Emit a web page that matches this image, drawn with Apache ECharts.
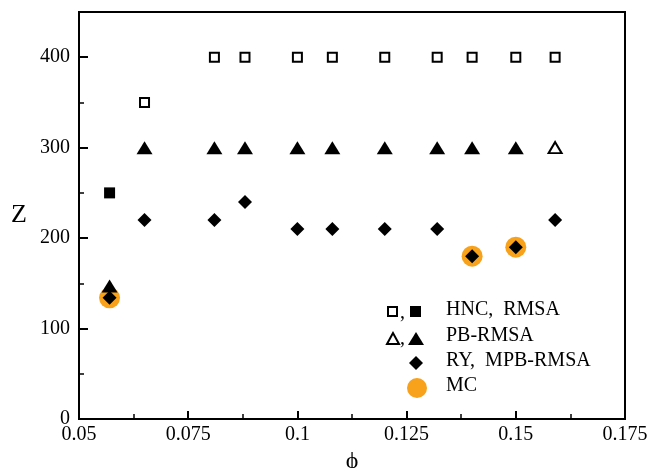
<!DOCTYPE html>
<html>
<head>
<meta charset="utf-8">
<script src="https://cdn.jsdelivr.net/npm/echarts@6/dist/echarts.min.js"></script>
<style>html,body{margin:0;padding:0;background:#fff;}#c{width:650px;height:468px;}</style>
</head>
<body>
<div id="c"></div>
<script>
// ---- data ----
const xTicks = [0.05, 0.075, 0.1, 0.125, 0.15, 0.175];
const yTicks = [0, 100, 200, 300, 400];
const hncPhi = [0.065, 0.081, 0.088, 0.1, 0.108, 0.12, 0.132, 0.14, 0.15, 0.159];
const hncZ   = [350, 400, 400, 400, 400, 400, 400, 400, 400, 400];
const rmsaPhi = [0.057];
const rmsaZ   = [250];
const pbOpenPhi = [0.159];
const pbOpenZ   = [300];
const pbRmsaPhi = [0.057, 0.065, 0.081, 0.088, 0.1, 0.108, 0.12, 0.132, 0.14, 0.15];
const pbRmsaZ   = [147, 300, 300, 300, 300, 300, 300, 300, 300, 300];
const ryPhi = [0.057, 0.065, 0.081, 0.088, 0.1, 0.108, 0.12, 0.132, 0.14, 0.15, 0.159];
const ryZ   = [134, 220, 220, 240, 210, 210, 210, 210, 180, 190, 220];
const mcPhi = [0.057, 0.14, 0.15];
const mcZ   = [134, 180, 190];

const pairs = (xs, ys) => xs.map((x, i) => [x, ys[i]]);
const FONT = '"Liberation Serif", "DejaVu Serif", serif';
const ORANGE = '#F8A11B';

const chart = echarts.init(document.getElementById('c'));
chart.setOption({
  animation: false,
  backgroundColor: '#fff',
  grid: { left: 79, right: 25, top: 12, bottom: 49, show: true, borderColor: '#000', borderWidth: 2,
          backgroundColor: 'transparent', outerBoundsMode: 'none', containLabel: false },
  xAxis: {
    type: 'value', min: xTicks[0], max: xTicks[xTicks.length - 1], interval: 0.025,
    axisLine: { show: true, onZero: false, lineStyle: { color: '#000', width: 2 } },
    axisTick: { show: true, inside: true, length: 8, lineStyle: { color: '#000', width: 2 } },
    minorTick: { show: true, splitNumber: 2, length: 5, lineStyle: { color: '#000', width: 1.5 } },
    splitLine: { show: false },
    axisLabel: { color: '#000', fontFamily: FONT, fontSize: 20, margin: 6,
      formatter: v => { const t = xTicks.find(a => Math.abs(a - v) < 1e-9); return t === undefined ? '' : String(t); } },
    name: 'ϕ', nameLocation: 'middle', nameGap: 27,
    nameTextStyle: { color: '#000', fontFamily: FONT, fontSize: 24 }
  },
  yAxis: [{
    type: 'value', min: 0, max: 450, interval: 100,
    axisLine: { show: true, onZero: false, lineStyle: { color: '#000', width: 2 } },
    axisTick: { show: true, inside: true, length: 9, lineStyle: { color: '#000', width: 2 } },
    splitLine: { show: false },
    axisLabel: { color: '#000', fontFamily: FONT, fontSize: 20, margin: 9,
      formatter: v => yTicks.indexOf(v) >= 0 ? String(v) : '' },
    name: 'Z', nameLocation: 'middle', nameGap: 52, nameRotate: 0,
    nameTextStyle: { color: '#000', fontFamily: FONT, fontSize: 26 }
  }, {
    type: 'value', min: 0, max: 450, interval: 50, position: 'left',
    axisLine: { show: false },
    axisTick: { show: true, inside: true, length: 5, lineStyle: { color: '#000', width: 1.5 } },
    axisLabel: { show: false }, splitLine: { show: false }
  }],
  series: [
    { name: 'MC', type: 'scatter', z: 2, data: pairs(mcPhi, mcZ),
      symbol: 'circle', symbolSize: 21, itemStyle: { color: ORANGE, opacity: 1 } },
    { name: 'PB-RMSA', type: 'scatter', z: 3, data: pairs(pbRmsaPhi, pbRmsaZ),
      symbol: 'triangle', symbolSize: [16, 13], itemStyle: { color: '#000', opacity: 1 } },
    { name: 'PB (open)', type: 'scatter', z: 3, data: pairs(pbOpenPhi, pbOpenZ),
      symbol: 'triangle', symbolSize: [13, 11], itemStyle: { color: '#fff', borderColor: '#000', borderWidth: 2, opacity: 1 } },
    { name: 'HNC', type: 'scatter', z: 3, data: pairs(hncPhi, hncZ),
      symbol: 'rect', symbolSize: 9, itemStyle: { color: '#fff', borderColor: '#000', borderWidth: 2, opacity: 1 } },
    { name: 'RMSA', type: 'scatter', z: 3, data: pairs(rmsaPhi, rmsaZ),
      symbol: 'rect', symbolSize: 11, itemStyle: { color: '#000', opacity: 1 } },
    { name: 'RY, MPB-RMSA', type: 'scatter', z: 4, data: pairs(ryPhi, ryZ),
      symbol: 'diamond', symbolSize: 14, itemStyle: { color: '#000', opacity: 1 } }
  ],
  graphic: [
    // row 1
    { type: 'rect', shape: { x: 388, y: 307, width: 9, height: 9 }, style: { fill: '#fff', stroke: '#000', lineWidth: 2 } },
    { type: 'text', left: 400, top: 303, style: { text: ',', font: '20px ' + FONT, fill: '#000' } },
    { type: 'rect', shape: { x: 410, y: 306, width: 11, height: 11 }, style: { fill: '#000' } },
    { type: 'text', left: 446, top: 300, style: { text: 'HNC,  RMSA', font: '20px ' + FONT, fill: '#000' } },
    // row 2
    { type: 'polygon', shape: { points: [[393, 333], [387, 344], [399, 344]] }, style: { fill: '#fff', stroke: '#000', lineWidth: 2 } },
    { type: 'text', left: 400, top: 329, style: { text: ',', font: '20px ' + FONT, fill: '#000' } },
    { type: 'polygon', shape: { points: [[416, 332], [408, 345], [424, 345]] }, style: { fill: '#000' } },
    { type: 'text', left: 446, top: 326, style: { text: 'PB-RMSA', font: '20px ' + FONT, fill: '#000' } },
    // row 3
    { type: 'polygon', shape: { points: [[416, 356], [423, 363], [416, 370], [409, 363]] }, style: { fill: '#000' } },
    { type: 'text', left: 446, top: 351, style: { text: 'RY,  MPB-RMSA', font: '20px ' + FONT, fill: '#000' } },
    // row 4
    { type: 'circle', shape: { cx: 417, cy: 388, r: 10 }, style: { fill: ORANGE } },
    { type: 'text', left: 446, top: 376, style: { text: 'MC', font: '20px ' + FONT, fill: '#000' } }
  ]
});
</script>
</body>
</html>
